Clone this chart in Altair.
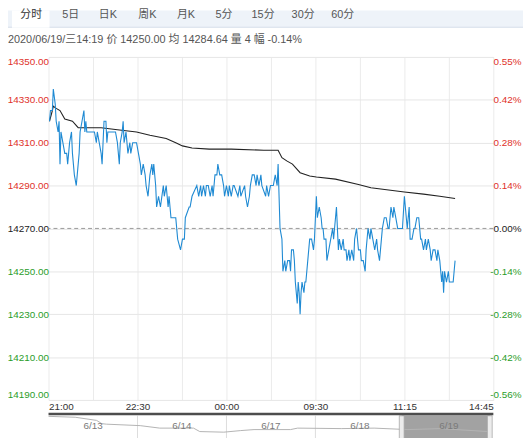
import altair as alt
import pandas as pd

# ---------------- data ----------------
# trading minute since 21:00 (night 21:00-01:00, day 09:00-15:00), price
price_min = [1, 2, 4, 5, 7, 8, 10, 11, 12, 13, 15, 17, 19, 20, 22, 24, 25, 27, 29, 30,
             32, 33, 35, 37, 38, 39, 40, 48, 50, 51, 53, 55, 56, 58, 60, 61, 62, 70, 72, 74,
             75, 77, 78, 79, 81, 83, 85, 86, 88, 92, 94, 96, 97, 99, 101, 102, 104, 106, 108, 109,
             110, 112, 113, 115, 117, 120, 121, 123, 125, 126, 128, 133, 135, 138, 140, 142, 143, 147, 148, 150,
             155, 157, 159, 160, 162, 164, 165, 167, 169, 171, 172, 174, 176, 177, 179, 181, 183, 184, 186, 188,
             189, 191, 193, 194, 198, 200, 201, 205, 206, 208, 210, 211, 213, 215, 217, 218, 220, 222, 223, 227,
             228, 230, 232, 235, 237, 239, 240, 242, 244, 245, 247, 248, 250, 252, 253, 254, 256, 257, 258, 260,
             261, 262, 263, 264, 265, 267, 268, 269, 271, 272, 273, 275, 277, 278, 280, 281, 283, 285, 286, 287,
             288, 290, 291, 293, 295, 297, 298, 299, 301, 302, 303, 304, 306, 308, 309, 311, 312, 314, 315, 317,
             319, 320, 322, 324, 326, 327, 329, 331, 332, 334, 336, 337, 339, 341, 343, 344, 346, 348, 349, 351,
             353, 355, 356, 358, 360, 361, 363, 365, 366, 368, 370, 372, 373, 375, 377, 378, 380, 382, 383, 385,
             387, 389, 390, 392, 394, 395, 397, 399, 400, 402, 404, 406, 407, 409, 411, 412, 413, 414, 416, 418,
             419, 421, 423, 424, 425]
price_val = [14320, 14325, 14325, 14335, 14328, 14320, 14315, 14320, 14300, 14315, 14310, 14305, 14305, 14300, 14310, 14315, 14305, 14295, 14290, 14295,
             14305, 14315, 14320, 14325, 14315, 14320, 14315, 14315, 14310, 14315, 14310, 14305, 14300, 14320, 14320, 14310, 14315, 14315, 14310, 14300,
             14310, 14315, 14320, 14310, 14315, 14305, 14310, 14305, 14310, 14310, 14305, 14300, 14295, 14300, 14295, 14290, 14285, 14295, 14300, 14295,
             14300, 14290, 14280, 14285, 14280, 14290, 14285, 14290, 14280, 14285, 14275, 14275, 14265, 14260, 14265, 14265, 14275, 14280, 14280, 14285,
             14290, 14285, 14290, 14285, 14290, 14285, 14290, 14290, 14285, 14290, 14285, 14295, 14295, 14300, 14295, 14295, 14290, 14285, 14290, 14285,
             14290, 14285, 14290, 14290, 14285, 14290, 14285, 14290, 14285, 14280, 14285, 14290, 14295, 14295, 14290, 14295, 14290, 14295, 14290, 14285,
             14290, 14285, 14290, 14290, 14295, 14290, 14300, 14270, 14265, 14250, 14255, 14250, 14255, 14255, 14250, 14260, 14260, 14255, 14245, 14235,
             14245, 14240, 14230, 14240, 14245, 14240, 14245, 14245, 14255, 14260, 14265, 14265, 14260, 14265, 14285, 14275, 14280, 14275, 14270, 14270,
             14265, 14265, 14255, 14260, 14265, 14270, 14265, 14270, 14280, 14270, 14260, 14265, 14260, 14265, 14260, 14260, 14255, 14260, 14255, 14260,
             14255, 14265, 14270, 14260, 14260, 14255, 14255, 14250, 14260, 14270, 14265, 14270, 14265, 14260, 14265, 14260, 14255, 14265, 14270, 14275,
             14275, 14270, 14270, 14280, 14275, 14280, 14275, 14270, 14270, 14270, 14270, 14285, 14280, 14270, 14280, 14265, 14265, 14270, 14270, 14275,
             14275, 14265, 14265, 14260, 14265, 14260, 14265, 14260, 14255, 14260, 14260, 14255, 14260, 14255, 14245, 14250, 14240, 14250, 14245, 14250,
             14245, 14245, 14245, 14250, 14255]

avg_min = [1, 4, 5, 8, 12, 17, 25, 31, 55, 72, 92, 106, 123, 133, 140, 150, 168, 191, 225, 240,
           244, 249, 255, 263, 273, 280, 300, 324, 337, 372, 392, 409, 425]
avg_val = [14320, 14325, 14327, 14326, 14325, 14321, 14320, 14317, 14317, 14316, 14315, 14313.5, 14312, 14310, 14308.5,
           14307.5, 14307, 14307, 14306.5, 14306.5, 14303, 14301.5, 14300, 14296, 14294.5, 14294, 14293, 14290.5, 14289,
           14287, 14286, 14285, 14284]

base_price = 14270
y_ticks = [14350, 14330, 14310, 14290, 14270, 14250, 14230, 14210, 14190]
y_labels = ["14350.00", "14330.00", "14310.00", "14290.00", "14270.00", "14250.00", "14230.00", "14210.00", "14190.00"]
pct_labels = ["0.55%", "0.42%", "0.28%", "0.14%", "0.00%", "-0.14%", "-0.28%", "-0.42%", "-0.56%"]
time_ticks = [0, 93, 186, 279, 372, 465]
time_labels = ["21:00", "22:30", "00:00", "09:30", "11:15", "14:45"]
grid_x = [0, 46.5, 93, 139.5, 186, 232.5, 279, 325.5, 372, 418.5, 465]

tabs = ["分时", "5日", "日K", "周K", "月K", "5分", "15分", "30分", "60分"]
info_text = "2020/06/19/三14:19  价 14250.00  均 14284.64  量 4  幅 -0.14%"

# navigator (5 trading days)
nav_day = [0.0, 0.3, 0.54, 0.6, 0.65, 1.03, 1.25, 1.63, 1.7, 1.97, 2.16, 2.31, 2.72, 2.8, 3.29, 3.66, 4.04, 4.41, 4.94]
nav_val = [14414, 14405, 14373, 14340, 14335, 14320, 14295, 14295, 14260, 14254, 14270, 14280, 14280, 14295, 14290,
           14295, 14280, 14290, 14260]
nav_dates = ["6/13", "6/14", "6/17", "6/18", "6/19"]
nav_date_pos = [0.5, 1.5, 2.5, 3.5, 4.5]
nav_seps = [1, 2, 3]
nav_sel = [3.97, 4.96]

# ---------------- styling ----------------
W, H = 450, 347
FONT = "Liberation Sans, 'Noto Sans CJK SC', sans-serif"
RED = "#e0322a"
GREEN = "#2a9d2a"
BLUE = "#1f8ad3"

xs = alt.Scale(domain=[0, 465], nice=False, zero=False)
ys = alt.Scale(domain=[y_ticks[-1], y_ticks[0]], nice=False, zero=False)


def ternary(vals, labels):
    expr = "''"
    for v, l in reversed(list(zip(vals, labels))):
        expr = f"datum.value == {v} ? '{l}' : ({expr})"
    return expr


label_color = {
    "condition": [
        {"test": f"datum.value > {base_price}", "value": RED},
        {"test": f"datum.value < {base_price}", "value": GREEN},
    ],
    "value": "#222222",
}

x_axis = alt.Axis(values=grid_x, labelExpr=ternary(time_ticks, time_labels), grid=True,
                  gridColor="#ebebeb", domain=False, ticks=False, labelFlush=True,
                  labelPadding=2, labelFontSize=10, labelFont=FONT, labelColor="#333333",
                  labelOverlap=False, title=None)

left_axis = alt.Axis(values=y_ticks, labelExpr=ternary(y_ticks, y_labels), orient="left",
                     grid=True, gridColor="#e6e6e6", domain=False, ticks=False, labelPadding=0,
                     labelFontSize=10, labelFont=FONT, labelColor=label_color, labelFlush=True,
                     title=None)

right_axis = alt.Axis(values=y_ticks, labelExpr=ternary(y_ticks, pct_labels), orient="right",
                      grid=False, domain=False, ticks=False, labelPadding=28, labelAlign="right",
                      labelFontSize=10, labelFont=FONT, labelColor=label_color, labelFlush=True,
                      title=None)

price_df = pd.DataFrame({"t": price_min, "p": price_val, "o": range(len(price_min))})
avg_df = pd.DataFrame({"t": avg_min, "p": avg_val, "o": range(len(avg_min))})
base_df = pd.DataFrame({"p": [base_price]})

base_rule = alt.Chart(base_df).mark_rule(color="#9a9a9a", strokeDash=[4, 3], strokeWidth=1).encode(
    y=alt.Y("p:Q", scale=ys, axis=None)
)

avg_line = alt.Chart(avg_df).mark_line(color="#222222", strokeWidth=1.1).encode(
    x=alt.X("t:Q", scale=xs, axis=x_axis),
    y=alt.Y("p:Q", scale=ys, axis=right_axis),
    order="o:Q",
)

price_line = alt.Chart(price_df).mark_line(color=BLUE, strokeWidth=1.1).encode(
    x=alt.X("t:Q", scale=xs, axis=x_axis),
    y=alt.Y("p:Q", scale=ys, axis=left_axis),
    order="o:Q",
)

main = alt.layer(base_rule, avg_line, price_line).resolve_axis(y="independent")

# ---------------- navigator ----------------
nxs = alt.Scale(domain=[0, 5], nice=False, zero=False)
nys = alt.Scale(domain=[14200, 14450], range=[H + 38, H + 13], nice=False, zero=False)

dummy = pd.DataFrame({"a": [0]})
nav_bar = alt.Chart(dummy).mark_rect(color="#4d4d4d").encode(
    x=alt.value(0), x2=alt.value(W), y=alt.value(H + 13), y2=alt.value(H + 15.5)
)
sel_df = pd.DataFrame({"d0": [nav_sel[0]], "d1": [nav_sel[1]]})
nav_selrect = alt.Chart(sel_df).mark_rect(color="#a2a2a2").encode(
    x=alt.X("d0:Q", scale=nxs, axis=None), x2="d1:Q",
    y=alt.value(H + 15.5), y2=alt.value(H + 40)
)
sep_df = pd.DataFrame({"d": nav_seps})
nav_sep = alt.Chart(sep_df).mark_rule(color="#dddddd").encode(
    x=alt.X("d:Q", scale=nxs, axis=None), y=alt.value(H + 16), y2=alt.value(H + 40)
)
nav_df = pd.DataFrame({"d": nav_day, "v": nav_val})
nav_line = alt.Chart(nav_df).mark_line(color="#b3b3b3", strokeWidth=1).encode(
    x=alt.X("d:Q", scale=nxs, axis=None), y=alt.Y("v:Q", scale=nys, axis=None)
)
hd_df = pd.DataFrame({"h0": [nav_sel[0] - 0.027, nav_sel[1] - 0.027],
                      "h1": [nav_sel[0] + 0.027, nav_sel[1] + 0.027]})
nav_handles = alt.Chart(hd_df).mark_rect(color="#ececec", stroke="#a8a8a8", strokeWidth=0.8).encode(
    x=alt.X("h0:Q", scale=nxs, axis=None), x2="h1:Q",
    y=alt.value(H + 16), y2=alt.value(H + 40)
)
date_df = pd.DataFrame({"d": nav_date_pos, "lbl": nav_dates})
nav_dates_t = alt.Chart(date_df).mark_text(fontSize=10, font=FONT, color="#7a7a7a").encode(
    x=alt.X("d:Q", scale=nxs, axis=None), y=alt.value(H + 26), text="lbl:N"
)
nav = alt.layer(nav_sep, nav_selrect, nav_line, nav_handles, nav_bar, nav_dates_t)

# ---------------- header (tabs + info line) ----------------
deco = [
    alt.Chart(dummy).mark_rect(color="#eef3f9").encode(
        x=alt.value(-41), x2=alt.value(482), y=alt.value(-47), y2=alt.value(-30)),
    alt.Chart(dummy).mark_rule(color="#d6deea").encode(
        x=alt.value(-41), x2=alt.value(482), y=alt.value(-30)),
    alt.Chart(dummy).mark_rect(color="#ffffff").encode(
        x=alt.value(-37), x2=alt.value(1), y=alt.value(-47), y2=alt.value(-29.5)),
]
tab_x = [-17.5, 22.5, 60, 100, 139, 177.5, 217, 257.5, 297.5]
for i, (lbl, tx) in enumerate(zip(tabs, tab_x)):
    deco.append(
        alt.Chart(dummy).mark_text(fontSize=11, font=FONT, color="#333333" if i == 0 else "#555555").encode(
            x=alt.value(tx), y=alt.value(-42), text=alt.value(lbl))
    )
deco.append(
    alt.Chart(dummy).mark_text(fontSize=11, font=FONT, color="#555555", align="left").encode(
        x=alt.value(-41), y=alt.value(-17), text=alt.value(info_text))
)

chart = alt.layer(*deco, main, nav).resolve_scale(x="independent", y="independent").properties(
    width=W, height=H,
    autosize=alt.AutoSizeParams(type="none"),
    padding={"left": 41, "top": 47, "right": 30, "bottom": 36},
).configure_view(stroke=None)

chart.save("out.html", embed_options={"renderer": "svg", "actions": False})
